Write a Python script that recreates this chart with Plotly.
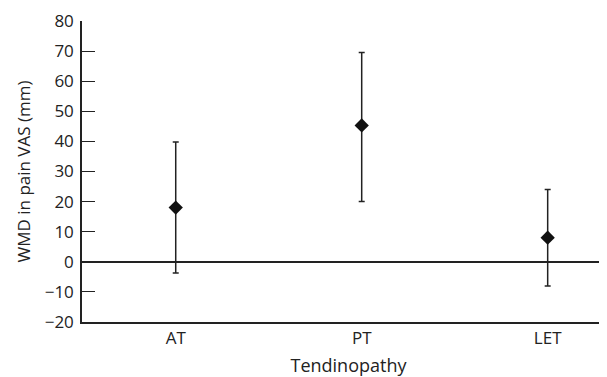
import plotly.graph_objects as go

categories = ["AT", "PT", "LET"]
wmd = [18, 45.3, 8]
ci_upper = [39.8, 69.5, 24]
ci_lower = [-3.7, 20, -8]

err_plus = [u - m for u, m in zip(ci_upper, wmd)]
err_minus = [m - l for m, l in zip(wmd, ci_lower)]

font_family = "'Open Sans', sans-serif"
txt = "#222222"

fig = go.Figure()
fig.add_trace(go.Scatter(
    x=[0, 1, 2], y=wmd, mode="markers",
    marker=dict(symbol="diamond", size=11, color="#111111"),
    error_y=dict(type="data", symmetric=False, array=err_plus, arrayminus=err_minus,
                 color="#222222", thickness=1.5, width=3),
    showlegend=False,
))

fig.update_layout(
    width=607, height=377,
    margin=dict(l=74, r=0, t=13, b=63),
    paper_bgcolor="white", plot_bgcolor="white",
    font=dict(family=font_family, size=17, color=txt),
    xaxis=dict(
        tickmode="array", tickvals=[0, 1, 2], ticktext=categories,
        range=[-0.504, 2.362], showline=True, linecolor="#222222", linewidth=1.5,
        ticks="", showgrid=False, zeroline=False, automargin=False,
        title=dict(text="Tendinopathy", standoff=11, font=dict(size=18)),
    ),
    yaxis=dict(
        range=[-20, 80], dtick=10, showline=True, linecolor="#222222", linewidth=1.5,
        ticks="inside", ticklen=13, tickwidth=1, tickcolor="#222222",
        showgrid=False, zeroline=True, zerolinecolor="#222222", zerolinewidth=1.5,
        automargin=False, ticklabelstandoff=3,
        title=dict(text="WMD in pain VAS (mm)", standoff=10, font=dict(size=17)),
        tickformat="d",
    ),
)

fig.write_html("out.html")
